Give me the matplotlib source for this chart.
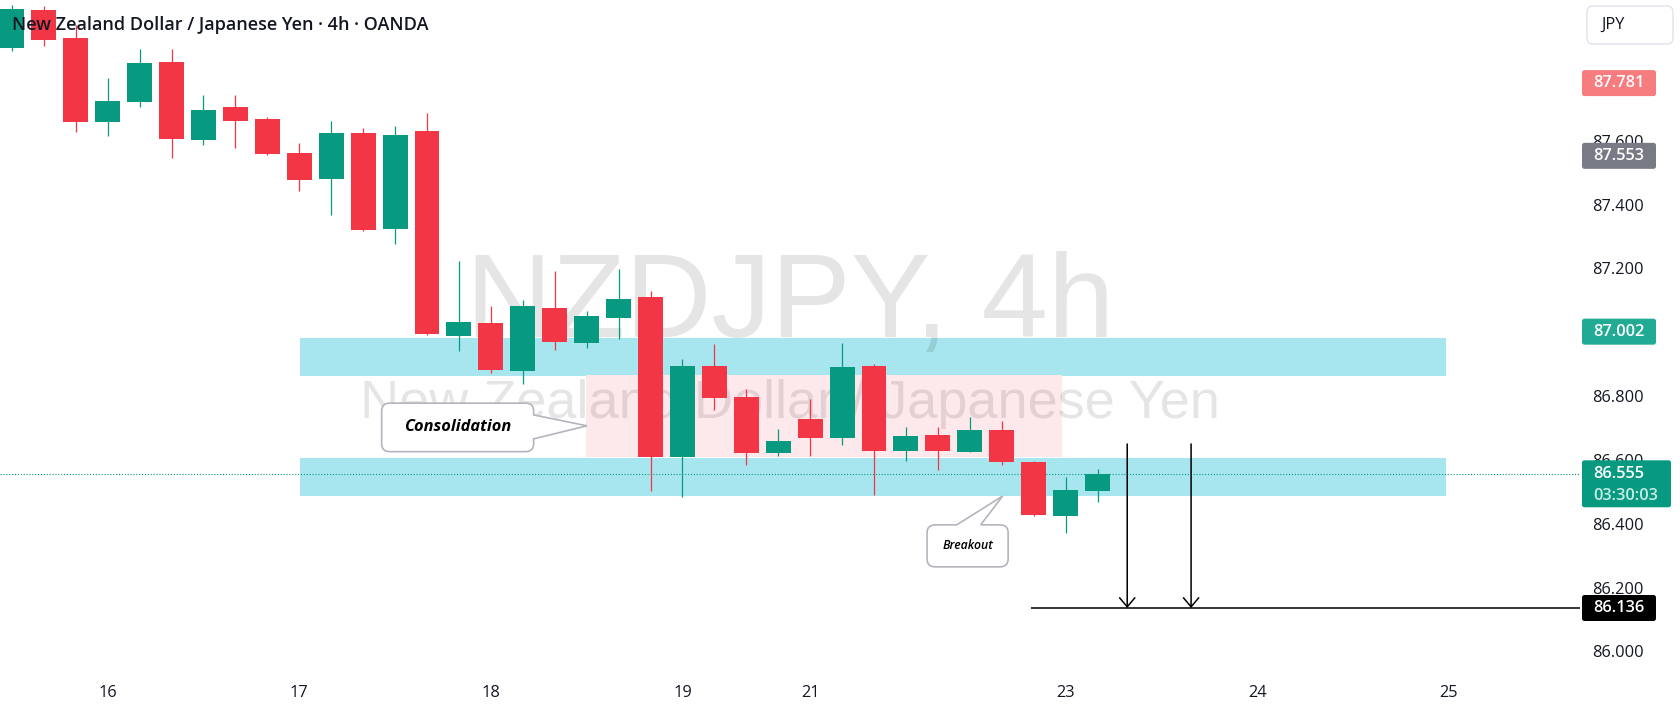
import matplotlib
matplotlib.use('Agg')
import matplotlib.pyplot as plt
import matplotlib.transforms as mtrans
from matplotlib.path import Path
from matplotlib.patches import PathPatch, Rectangle, FancyBboxPatch
import numpy as np

# ---------------- data (NZDJPY 4h candles) ----------------
opens  = [87.892, 88.010, 87.922, 87.660, 87.723, 87.847, 87.604, 87.706, 87.668, 87.562,
          87.481, 87.625, 87.325, 87.631, 86.988, 87.029, 86.880, 87.076, 86.967, 87.045,
          87.111, 86.609, 86.894, 86.797, 86.623, 86.728, 86.670, 86.894, 86.629, 86.678,
          86.626, 86.694, 86.594, 86.425, 86.504]
highs  = [88.026, 88.024, 87.963, 87.797, 87.888, 87.888, 87.744, 87.744, 87.675, 87.593,
          87.662, 87.640, 87.646, 87.687, 87.223, 87.082, 87.101, 87.192, 87.067, 87.198,
          87.129, 86.916, 86.963, 86.822, 86.697, 86.791, 86.966, 86.901, 86.703, 86.703,
          86.735, 86.722, 86.597, 86.547, 86.572]
lows   = [87.883, 87.898, 87.629, 87.616, 87.707, 87.547, 87.588, 87.579, 87.557, 87.444,
          87.369, 87.318, 87.278, 86.992, 86.942, 86.873, 86.838, 86.945, 86.952, 86.980,
          86.503, 86.485, 86.757, 86.585, 86.613, 86.613, 86.647, 86.490, 86.598, 86.569,
          86.626, 86.585, 86.425, 86.372, 86.469]
closes = [88.013, 87.917, 87.660, 87.725, 87.844, 87.607, 87.697, 87.663, 87.560, 87.478,
          87.625, 87.322, 87.618, 86.996, 87.032, 86.882, 87.082, 86.971, 87.051, 87.104,
          86.609, 86.894, 86.795, 86.623, 86.659, 86.670, 86.891, 86.629, 86.675, 86.629,
          86.694, 86.594, 86.428, 86.506, 86.555]

xtick_pos = [3, 9, 15, 21, 25, 33, 39, 45]
xtick_labels = ['16', '17', '18', '19', '21', '23', '24', '25']
# visible price-scale ticks (87.800 and 87.000 are hidden under the price tags)
ytick_vals = [86.0, 86.2, 86.4, 86.6, 86.8, 87.2, 87.4, 87.6]

# zones (x-start, x-end, price-low, price-high)
zones = [(9.02, 44.9, 86.864, 86.981), (9.02, 44.9, 86.488, 86.606)]
consolidation = (17.98, 32.89, 86.608, 86.866)
current_price = 86.555
countdown = '03:30:03'
target_price = 86.136
target_start = 31.93
arrow_x = [34.93, 36.93]
arrow_top = 86.65

price_labels = [(87.781, '87.781', '#f77c80'),
                (87.553, '87.553', '#787b86'),
                (87.002, '87.002', '#22ab94'),
                (86.136, '86.136', '#000000')]

RED = '#f23645'
GREEN = '#089981'
TXT = '#131722'
FONT = ['Open Sans', 'DejaVu Sans']

W, H = 1680, 710
fig = plt.figure(figsize=(W / 100, H / 100), dpi=100, facecolor='white')
AX_W_PX, AX_H_PX = 1580, 670
ax = fig.add_axes([0, (H - AX_H_PX) / H, AX_W_PX / W, AX_H_PX / H])
ax.set_facecolor('white')
XL = (-0.373, -0.373 + AX_W_PX / 31.93)
YL = (85.9417, 88.0414)
ax.set_xlim(*XL)
ax.set_ylim(*YL)
for s in ax.spines.values():
    s.set_visible(False)

ax.yaxis.tick_right()
ax.set_yticks(ytick_vals)
ax.set_yticklabels([f'{v:.3f}' for v in ytick_vals], family=FONT)
ax.tick_params(axis='y', length=0, pad=8.6, labelsize=11.8, labelcolor=TXT)
ax.set_xticks(xtick_pos)
ax.set_xticklabels(xtick_labels, family=FONT)
ax.tick_params(axis='x', length=0, pad=11, labelsize=11.8, labelcolor=TXT)

blend = mtrans.blended_transform_factory(ax.transAxes, ax.transData)

# zones
for x0, x1, y0, y1 in zones:
    ax.add_patch(Rectangle((x0, y0), x1 - x0, y1 - y0, facecolor='#a8e6ef',
                           edgecolor='none', zorder=1))
cx0, cx1, cy0, cy1 = consolidation
ax.add_patch(Rectangle((cx0, cy0), cx1 - cx0, cy1 - cy0, facecolor='#fde8eb',
                       edgecolor='none', zorder=1))

# watermarks
ax.text(0.5, 86.984, 'NZDJPY, 4h', transform=blend, ha='center', va='baseline',
        fontsize=86, family=['Liberation Sans', 'DejaVu Sans'], color=(0, 0, 0, 0.1), zorder=2)
ax.text(0.5, 86.732, 'New Zealand Dollar / Japanese Yen', transform=blend, ha='center',
        va='baseline', fontsize=39, family=['Liberation Sans', 'DejaVu Sans'],
        color=(0, 0, 0, 0.1), zorder=2)

# current price dotted line
ax.axhline(current_price, color=GREEN, lw=0.8, ls=(0, (1, 1.6)), zorder=2.5)

# candles
o = np.array(opens); h = np.array(highs); l = np.array(lows); c = np.array(closes)
idx = np.arange(len(o))
cols = np.where(c >= o, GREEN, RED)
ax.vlines(idx, l, h, colors=cols, lw=0.9, zorder=3)
ax.bar(idx, np.abs(c - o), bottom=np.minimum(o, c), width=0.78, color=cols,
       linewidth=0, zorder=4)

# target line and arrows
ax.hlines(target_price, target_start, XL[1], color='black', lw=1.1, zorder=5)
for xa in arrow_x:
    ax.annotate('', xy=(xa, target_price), xytext=(xa, arrow_top),
                arrowprops=dict(arrowstyle='->,head_length=0.65,head_width=0.55',
                                color='black', lw=1.1, shrinkA=0, shrinkB=0),
                zorder=5)

fig.canvas.draw()


def callout(box, tip, base, side, text, **tkw):
    """box=(x0,x1,y0,y1) data; tip data; base = two data coords along the edge."""
    tr = ax.transData
    (L, B) = tr.transform((box[0], box[2]))
    (R, T) = tr.transform((box[1], box[3]))
    r = 8
    tx, ty = tr.transform(tip)
    verts, codes = [], []

    def mv(p):
        verts.append(p); codes.append(Path.MOVETO)

    def ln(p):
        verts.append(p); codes.append(Path.LINETO)

    def cv(cp, p):
        verts.extend([cp, p]); codes.extend([Path.CURVE3, Path.CURVE3])

    mv((L + r, T))
    if side == 'top':
        a1 = tr.transform((base[0], box[3]))[0]
        a2 = tr.transform((base[1], box[3]))[0]
        ln((a1, T)); ln((tx, ty)); ln((a2, T))
    ln((R - r, T)); cv((R, T), (R, T - r))
    if side == 'right':
        b2 = tr.transform((box[1], base[1]))[1]
        b1 = tr.transform((box[1], base[0]))[1]
        ln((R, b2)); ln((tx, ty)); ln((R, b1))
    ln((R, B + r)); cv((R, B), (R - r, B))
    ln((L + r, B)); cv((L, B), (L, B + r))
    ln((L, T - r)); cv((L, T), (L + r, T))
    verts.append((L + r, T)); codes.append(Path.CLOSEPOLY)
    dv = ax.transData.inverted().transform(np.array(verts))
    ax.add_patch(PathPatch(Path(dv, codes), facecolor='white', edgecolor='#b2b5be',
                           lw=1.2, zorder=6))
    ax.text((box[0] + box[1]) / 2, (box[2] + box[3]) / 2, text, ha='center',
            va='center', zorder=7, color='black', **tkw)


callout((11.58, 16.34, 86.626, 86.778), (18.01, 86.707), (86.666, 86.741), 'right',
        'Consolidation', fontsize=11.8, fontweight='bold', style='italic', family=FONT)
callout((28.66, 31.20, 86.265, 86.3965), (31.03, 86.487), (29.59, 30.34), 'top',
        'Breakout', fontsize=8.8, fontweight=600, style='italic', family=FONT)

# price-axis tags (drawn in pixel space, anchored at the price)
ID = mtrans.IdentityTransform()
TAG_X0 = 1582
TXT_X = 1.0 + 13 / AX_W_PX


def tag(p, w, h, col, dy_top=None):
    yc = ax.transData.transform((0, p))[1]
    top = yc + (h / 2 if dy_top is None else dy_top)
    ax.add_patch(FancyBboxPatch((TAG_X0, top - h), w, h,
                                boxstyle='round,pad=0,rounding_size=2.5',
                                transform=ID, facecolor=col, edgecolor='none',
                                clip_on=False, zorder=10))


for p, t, col in price_labels:
    tag(p, 74, 26, col)
    ax.text(TXT_X, p, t, transform=blend, ha='left', va='center', color='white',
            fontsize=11.8, fontweight=600, family=FONT, clip_on=False, zorder=11)

PX_PER_PRICE = AX_H_PX / (YL[1] - YL[0])
tag(current_price, 89, 47, GREEN, dy_top=14)
ax.text(TXT_X, current_price, f'{current_price:.3f}', transform=blend, ha='left',
        va='center', color='white', fontsize=11.8, fontweight=600, family=FONT,
        clip_on=False, zorder=11)
ax.text(TXT_X, current_price - 21.5 / PX_PER_PRICE, countdown, transform=blend,
        ha='left', va='center', color='#c8ebe5', fontsize=11.8, fontweight=600,
        family=FONT, clip_on=False, zorder=11)

# currency box
fig.add_artist(FancyBboxPatch((1587, H - 44), 86, 38,
                              boxstyle='round,pad=0,rounding_size=6',
                              transform=ID, facecolor='white', edgecolor='#e0e3eb', lw=1))
fig.text(1601 / W, 1 - 25 / H, 'JPY', ha='left', va='center', fontsize=11.8,
         color=TXT, family=FONT)

# title
fig.text(12 / W, 1 - 25 / H, 'New Zealand Dollar / Japanese Yen · 4h · OANDA',
         ha='left', va='center', fontsize=13, fontweight=600, color=TXT,
         family=FONT, zorder=20)

fig.savefig('out.png', dpi=100, facecolor='white')
